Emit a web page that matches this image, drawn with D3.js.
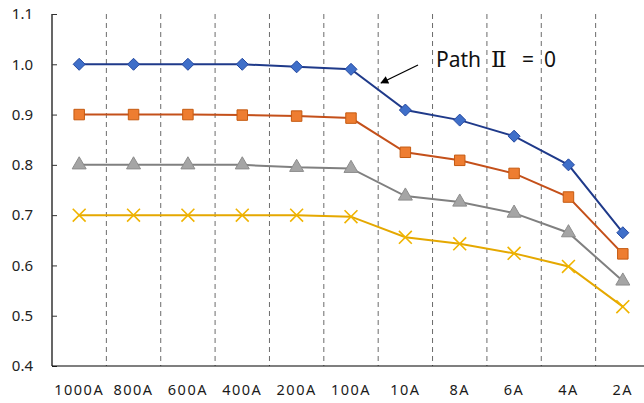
<!DOCTYPE html>
<html><head><meta charset="utf-8">
<script src="https://cdn.jsdelivr.net/npm/d3@7"></script>
<style>
html,body{margin:0;padding:0;background:#fff;}
svg{display:block;}
text{font-family:"Noto Sans","Open Sans",sans-serif;}
</style></head>
<body>
<script>
const categories = ["1000A","800A","600A","400A","200A","100A","10A","8A","6A","4A","2A"];
const seriesBlue   = [1.0, 1.0, 1.0, 1.0, 0.995, 0.99, 0.909, 0.889, 0.857, 0.80, 0.665];
const seriesOrange = [0.9, 0.9, 0.9, 0.899, 0.897, 0.893, 0.825, 0.809, 0.783, 0.736, 0.623];
const seriesGray   = [0.8, 0.8, 0.8, 0.8, 0.795, 0.793, 0.738, 0.726, 0.704, 0.665, 0.569];
const seriesYellow = [0.7, 0.7, 0.7, 0.7, 0.7, 0.697, 0.656, 0.643, 0.624, 0.598, 0.518];
const yTicks = [0.4, 0.5, 0.6, 0.7, 0.8, 0.9, 1.0, 1.1];
const annotationParts = ["Path", "\u2161", "=", "0"];

const W = 644, H = 403;
const m = {left: 52, top: 14, bottom: 366, right: 650};
const svg = d3.select("body").append("svg").attr("width", W).attr("height", H);

const x = d3.scaleBand().domain(categories).range([m.left, m.right]).paddingInner(0).paddingOuter(0);
const y = d3.scaleLinear().domain([0.4, 1.1]).range([m.bottom, m.top]);

// vertical dashed separators
svg.append("g").selectAll("line").data(categories.slice(1)).join("line")
  .attr("x1", d => x(d)).attr("x2", d => x(d))
  .attr("y1", m.top).attr("y2", m.bottom)
  .attr("stroke", "#6b6b6b").attr("stroke-width", 1).attr("stroke-dasharray", "5,4");

// y axis
const yAxis = d3.axisLeft(y).tickValues(yTicks).tickFormat(d => d.toFixed(1)).tickSize(-5).tickPadding(19);
const gy = svg.append("g").attr("transform", `translate(${m.left},0)`).call(yAxis);
gy.select(".domain").attr("stroke", "#000").attr("stroke-width", 1.2).attr("d", `M0,${m.top}V${m.bottom}`);
gy.selectAll(".tick line").attr("stroke", "#333");
gy.selectAll("text").attr("font-size", 15).attr("fill", "#222").attr("font-family", "Noto Sans");

// x axis
const xAxis = d3.axisBottom(x).tickSize(0).tickPadding(19);
const gx = svg.append("g").attr("transform", `translate(0,${m.bottom})`).call(xAxis);
gx.select(".domain").attr("stroke", "#000").attr("stroke-width", 1.2).attr("d", `M${m.left},0H${m.right}`);
gx.selectAll("text").attr("font-size", 14.5).attr("fill", "#1a1a1a").attr("letter-spacing", "1.5px").attr("font-family", "Noto Sans");

const diamond = {
  draw(ctx, size) {
    const r = Math.sqrt(size / 2);
    ctx.moveTo(0, -r); ctx.lineTo(r, 0); ctx.lineTo(0, r); ctx.lineTo(-r, 0); ctx.closePath();
  }
};

const series = [
  {vals: seriesBlue, line: "#1f3a8a", fill: "#3f6fc9", stroke: "#2448a0", sym: diamond, size: 72},
  {vals: seriesOrange, line: "#c4501a", fill: "#ee7d31", stroke: "#c55a11", sym: d3.symbolSquare, size: 110},
  {vals: seriesGray, line: "#808080", fill: "#a5a5a5", stroke: "#8c8c8c", sym: d3.symbolTriangle, size: 85},
  {vals: seriesYellow, line: "#e5a800", fill: "none", stroke: "#f0b400", sym: d3.symbolX, size: 110}
];

const line = d3.line().x((d, i) => x(categories[i]) + x.bandwidth() / 2).y(d => y(d));

series.forEach(s => {
  svg.append("path").datum(s.vals).attr("d", line)
    .attr("fill", "none").attr("stroke", s.line).attr("stroke-width", 2);
  svg.append("g").selectAll("path").data(s.vals).join("path")
    .attr("transform", (d, i) => `translate(${x(categories[i]) + x.bandwidth() / 2},${y(d)})`)
    .attr("d", d3.symbol().type(s.sym).size(s.size))
    .attr("fill", s.fill).attr("stroke", s.stroke)
    .attr("stroke-width", s.sym === d3.symbolX ? 1.6 : 1);
});

// annotation
svg.append("defs").append("marker").attr("id", "ah")
  .attr("viewBox", "0 0 10 10").attr("refX", 9).attr("refY", 5)
  .attr("markerWidth", 10).attr("markerHeight", 8).attr("markerUnits", "userSpaceOnUse")
  .attr("orient", "auto")
  .append("path").attr("d", "M0,0L10,5L0,10z").attr("fill", "#000");
svg.append("line").attr("x1", 418).attr("y1", 65).attr("x2", 381).attr("y2", 83)
  .attr("stroke", "#000").attr("stroke-width", 1.3).attr("marker-end", "url(#ah)");
const ann = svg.append("text").attr("y", 67).attr("font-size", 21).attr("fill", "#111").attr("font-family", "Noto Sans");
const annX = [436, 491, 522, 544];
annotationParts.forEach((p, i) => {
  ann.append("tspan").attr("x", annX[i])
    .attr("font-family", i === 1 ? "DejaVu Serif" : "Noto Sans")
    .attr("font-size", i === 1 ? 23 : 21)
    .text(p);
});
</script>
</body></html>
